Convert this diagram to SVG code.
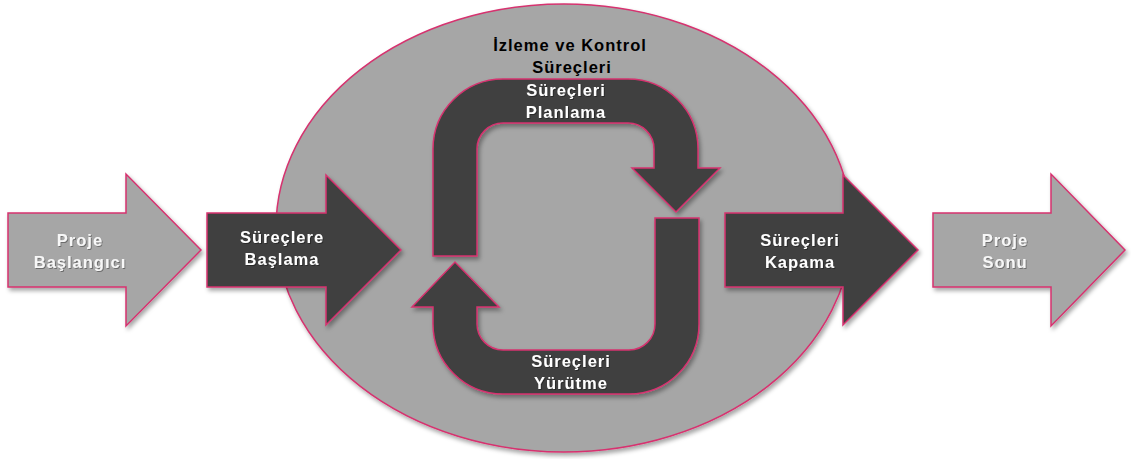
<svg xmlns="http://www.w3.org/2000/svg" width="1131" height="459" viewBox="0 0 1131 459">
<defs>
<filter id="sh" x="-10%" y="-10%" width="125%" height="130%">
<feDropShadow dx="2" dy="3" stdDeviation="2" flood-color="#000" flood-opacity="0.35"/>
</filter>
<filter id="ts" x="-10%" y="-30%" width="120%" height="160%">
<feDropShadow dx="1" dy="1" stdDeviation="0.6" flood-color="#000" flood-opacity="0.35"/>
</filter>
<style>
.light{fill:#A6A6A6;stroke:#D6336F;stroke-width:1.5;stroke-linejoin:miter}
.dark{fill:#404040;stroke:#D6336F;stroke-width:1.5;stroke-linejoin:miter}
.t{font-family:"Liberation Sans",Arial,sans-serif;font-weight:bold;font-size:16.5px;letter-spacing:1px;text-anchor:middle}
.w{fill:#FFFFFF;filter:url(#ts)}
.wl{fill:#F7F7F7;filter:url(#ts)}
.b{fill:#000000}
</style>
</defs>
<rect width="1131" height="459" fill="#FFFFFF"/>
<g id="izleme-kontrol">
<ellipse class="light" cx="564" cy="228" rx="288" ry="224" filter="url(#sh)"/>
<text class="t b" x="570" y="51">İzleme ve Kontrol</text>
<text class="t b" x="572" y="73">Süreçleri</text>
</g>
<g id="connectors">
<g id="planlama">
<path class="dark" filter="url(#sh)" d="M433,256 L433,149 A70,70 0 0 1 503,79 L628,79 A70,70 0 0 1 698,149 L698,168 L720,168 L676,212 L632,168 L654,168 L654,149 A26,26 0 0 0 628,123 L503,123 A26,26 0 0 0 477,149 L477,256 Z"/>
<text class="t w" x="566" y="96">Süreçleri</text>
<text class="t w" x="566" y="118">Planlama</text>
</g>
<g id="yurutme">
<path class="dark" filter="url(#sh)" d="M655,218 L699,218 L699,324 A70,70 0 0 1 629,394 L503,394 A70,70 0 0 1 433,324 L433,307 L412,307 L455,262 L499,307 L477,307 L477,324 A26,26 0 0 0 503,350 L629,350 A26,26 0 0 0 655,324 Z"/>
<text class="t w" x="571" y="367">Süreçleri</text>
<text class="t w" x="571" y="389">Yürütme</text>
</g>
</g>
<g id="proje-baslangici">
<path class="light" filter="url(#sh)" d="M8,213 L126,213 L126,174 L201,250 L126,326 L126,287 L8,287 Z"/>
<text class="t wl" x="80" y="246">Proje</text>
<text class="t wl" x="80" y="268">Başlangıcı</text>
</g>
<g id="surecl-baslama">
<path class="dark" filter="url(#sh)" d="M207,213 L326,213 L326,175 L401,250 L326,325 L326,287 L207,287 Z"/>
<text class="t w" x="282" y="243">Süreçlere</text>
<text class="t w" x="282" y="265">Başlama</text>
</g>
<g id="surecleri-kapama">
<path class="dark" filter="url(#sh)" d="M725,213 L843,213 L843,175 L918,250 L843,325 L843,287 L725,287 Z"/>
<text class="t w" x="800" y="246">Süreçleri</text>
<text class="t w" x="800" y="268">Kapama</text>
</g>
<g id="proje-sonu">
<path class="light" filter="url(#sh)" d="M933,213 L1051,213 L1051,174 L1125,250 L1051,326 L1051,287 L933,287 Z"/>
<text class="t wl" x="1005" y="246">Proje</text>
<text class="t wl" x="1005" y="268">Sonu</text>
</g>
</svg>
